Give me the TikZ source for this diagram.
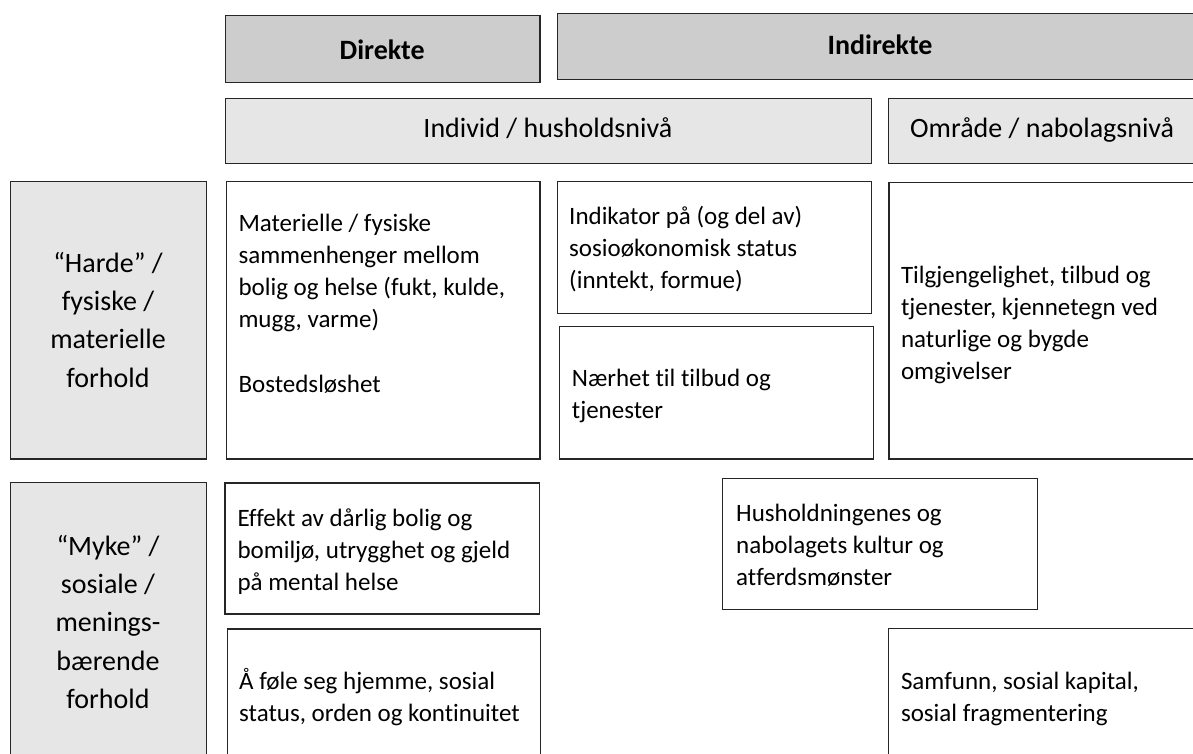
\documentclass[tikz,border=0pt]{standalone}
\usepackage{fontspec}
\setmainfont{Carlito}[Ligatures=NoCommon]
\definecolor{hdrfill}{HTML}{CDCDCD}
\definecolor{lvlfill}{HTML}{E6E6E6}
\definecolor{edge}{HTML}{262626}
\tikzset{
  cell/.style={draw=edge, line width=1.2pt, inner sep=0pt, anchor=north west},
  body/.style={anchor=north west, inner sep=0pt, align=left, font=\fontsize{25}{32}\selectfont},
  lab/.style={anchor=north, inner sep=0pt, align=center, font=\fontsize{28}{38.3}\selectfont},
  hdr/.style={inner sep=0pt, font=\fontsize{28}{34}\selectfont},
}
\newcommand\cellbox[6]{\node[cell, fill=#6, minimum width={#4pt-#2pt}, minimum height={#5pt-#3pt}] (#1) at (#2,#3) {};}
\begin{document}
\begin{tikzpicture}[x=1pt, y=-1pt]
\useasboundingbox (0,0) rectangle (1193,754);
\clip (0,0) rectangle (1193,754);
% column headers
\cellbox{dir}{225}{15}{539.3}{81.7}{hdrfill}
\cellbox{ind}{556.7}{13.3}{1203}{79.3}{hdrfill}
\cellbox{hh}{225}{98.3}{870.7}{163.3}{lvlfill}
\cellbox{omr}{887.7}{98.3}{1200}{162.7}{lvlfill}
% row labels
\cellbox{harde}{10}{180.7}{206}{458.3}{lvlfill}
\cellbox{myke}{10}{481.7}{206}{775}{lvlfill}
% content cells
\cellbox{mat}{225.7}{180.7}{539.3}{458.3}{white}
\cellbox{indik}{556.7}{180.7}{871}{312.7}{white}
\cellbox{naer}{559}{326}{872.7}{458.3}{white}
\cellbox{tilg}{888.3}{182.3}{1210}{458.3}{white}
\cellbox{eff}{224.3}{482.3}{539}{613.3}{white}
\cellbox{hush}{722}{477.7}{1037}{609}{white}
\cellbox{fole}{226.7}{628.3}{540}{775}{white}
\cellbox{samf}{887.7}{627.7}{1210}{775}{white}
% header texts
\node[hdr, anchor=base, font=\fontsize{28}{34}\selectfont\bfseries] (tdir) at (382.2,59.5) {Direkte};
\node[hdr, anchor=base, font=\fontsize{28}{34}\selectfont\bfseries] (tind) at (880,55) {Indirekte};
\node[hdr, anchor=base] (thh) at (547.9,138) {Individ / husholdsnivå};
\node[hdr, anchor=base west] (tomr) at (910,138) {Område / nabolagsnivå};
% row label texts
\node[lab] (tharde) at (108,245.2) {\strut “Harde” /\\ fysiske /\\ materielle\\ forhold};
\node[lab] (tmyke) at (108,528.2) {\strut “Myke” /\\ sosiale /\\ menings-\\ bærende\\ forhold};
% cell texts
\node[body] (tmat) at (238.3,209.3) {\strut Materielle / fysiske\\ sammenhenger mellom\\ bolig og helse (fukt, kulde,\\ mugg, varme)\\[33pt] Bostedsløshet};
\node[body] (tindik) at (569,201.8) {\strut Indikator på (og del av)\\ sosioøkonomisk status\\ (inntekt, formue)};
\node[body] (tnaer) at (571.7,364.3) {\strut Nærhet til tilbud og\\ tjenester};
\node[body] (ttilg) at (900.8,261) {\strut Tilgjengelighet, tilbud og\\ tjenester, kjennetegn ved\\ naturlige og bygde\\ omgivelser};
\node[body] (teff) at (237.3,503.6) {\strut Effekt av dårlig bolig og\\ bomiljø, utrygghet og gjeld\\ på mental helse};
\node[body] (thush) at (736,499.3) {\strut Husholdningenes og\\ nabolagets kultur og\\ atferdsmønster};
\node[body] (tfole) at (239,666.6) {\strut Å føle seg hjemme, sosial\\ status, orden og kontinuitet};
\node[body] (tsamf) at (900.8,666.6) {\strut Samfunn, sosial kapital,\\ sosial fragmentering};
\end{tikzpicture}
\end{document}
